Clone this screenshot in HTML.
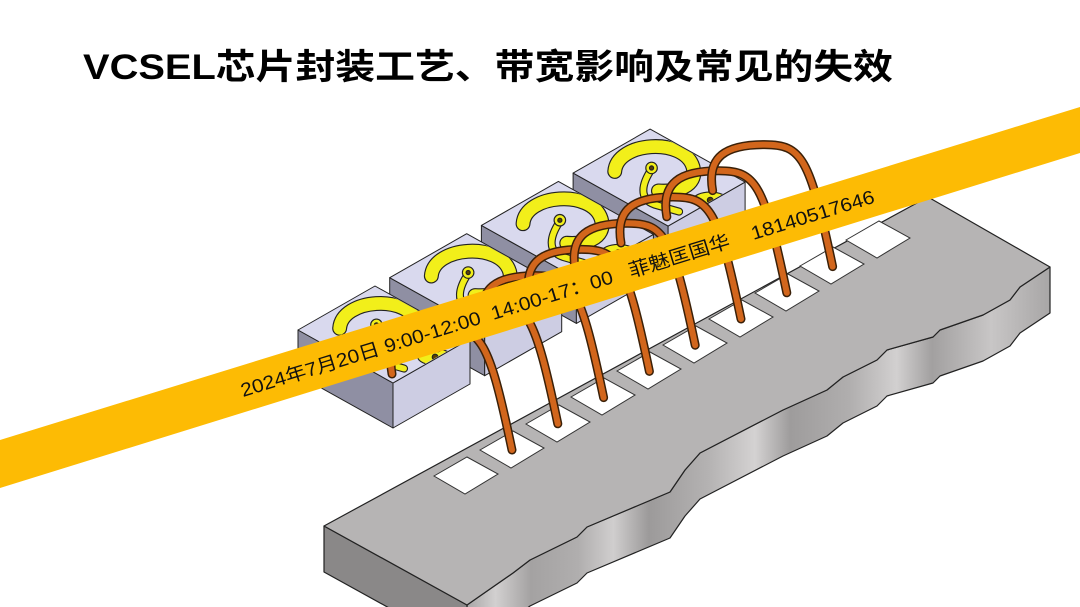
<!DOCTYPE html>
<html><head><meta charset="utf-8"><style>
html,body{margin:0;padding:0;background:#fff;width:1080px;height:607px;overflow:hidden;}
svg{display:block;}
</style></head><body>
<svg width="1080" height="607" viewBox="0 0 1080 607" xmlns="http://www.w3.org/2000/svg">
<defs>
<linearGradient id="cutg" gradientUnits="userSpaceOnUse" x1="460" y1="0" x2="1050" y2="0">
<stop offset="0" stop-color="#9e9c9c"/><stop offset="0.06" stop-color="#d2d0d0"/><stop offset="0.12" stop-color="#a4a2a2"/>
<stop offset="0.2" stop-color="#b0aeae"/><stop offset="0.26" stop-color="#d0cece"/><stop offset="0.32" stop-color="#9c9a9a"/>
<stop offset="0.42" stop-color="#b4b2b2"/><stop offset="0.5" stop-color="#d4d2d2"/><stop offset="0.56" stop-color="#9e9c9c"/>
<stop offset="0.66" stop-color="#b0aeae"/><stop offset="0.74" stop-color="#d2d0d0"/><stop offset="0.8" stop-color="#a2a0a0"/>
<stop offset="0.9" stop-color="#c8c6c6"/><stop offset="1" stop-color="#a8a6a6"/>
</linearGradient>
<clipPath id="topc"><polygon points="574,173 650,130 744,182 668,225"/></clipPath>
<g id="pat0">
  <path d="M620,166 C622,140 680,136 688,162 C693,180 672,184 658,183" fill="none" stroke="#222" stroke-width="13" stroke-linecap="round"/>
  <path d="M652,164 C644,176 640,190 655,195 L676,201" fill="none" stroke="#222" stroke-width="7" stroke-linecap="round"/>
  <ellipse cx="703" cy="191" rx="15" ry="7" fill="#f2ef1a" stroke="#222" stroke-width="1"/>
  <path d="M620,166 C622,140 680,136 688,162 C693,180 672,184 658,183" fill="none" stroke="#f2ef1a" stroke-width="11" stroke-linecap="round"/>
  <path d="M652,164 C644,176 640,190 655,195 L676,201" fill="none" stroke="#f2ef1a" stroke-width="5" stroke-linecap="round"/>
  <circle cx="652" cy="163" r="5" fill="#f2ef1a" stroke="#222" stroke-width="1"/>
  <circle cx="652" cy="163" r="1.8" fill="#5a4000"/>
  <circle cx="703" cy="191" r="2.5" fill="#5a4000"/>
</g>
<g id="pat"><g clip-path="url(#topc)"><use href="#pat0" transform="translate(655,176) scale(1.15) translate(-655,-170)"/></g></g>
</defs>

<text x="83" y="79" font-family="Liberation Sans, Noto Sans CJK SC, sans-serif" font-weight="bold" font-size="35" fill="#000" textLength="810" lengthAdjust="spacingAndGlyphs">VCSEL芯片封装工艺、带宽影响及常见的失效</text>

<g stroke="#222" stroke-width="1" stroke-linejoin="round">
  <g transform="translate(275.1,-156.9)">
    <polygon points="298,330 393,383 393,428 298,375" fill="#8f8fa3"/>
    <polygon points="393,383 470,339 470,384 393,428" fill="#cdcde3"/>
    <polygon points="298,330 375,286 470,339 393,383" fill="#d9d9ee"/>
  </g>
  <g><use href="#pat"/></g>
  <g transform="translate(183.4,-104.6)">
    <polygon points="298,330 393,383 393,428 298,375" fill="#8f8fa3"/>
    <polygon points="393,383 470,339 470,384 393,428" fill="#cdcde3"/>
    <polygon points="298,330 375,286 470,339 393,383" fill="#d9d9ee"/>
  </g>
  <g transform="translate(-91.7,52.3)"><use href="#pat"/></g>
  <g transform="translate(91.7,-52.3)">
    <polygon points="298,330 393,383 393,428 298,375" fill="#8f8fa3"/>
    <polygon points="393,383 470,339 470,384 393,428" fill="#cdcde3"/>
    <polygon points="298,330 375,286 470,339 393,383" fill="#d9d9ee"/>
  </g>
  <g transform="translate(-183.4,104.6)"><use href="#pat"/></g>
  <g>
    <polygon points="298,330 393,383 393,428 298,375" fill="#8f8fa3"/>
    <polygon points="393,383 470,339 470,384 393,428" fill="#cdcde3"/>
    <polygon points="298,330 375,286 470,339 393,383" fill="#d9d9ee"/>
  </g>
  <g transform="translate(-275.1,156.9)"><use href="#pat"/></g>
</g>

<g stroke="#222" stroke-width="1.2" stroke-linejoin="round">
  <polygon fill="url(#cutg)" points="1050,267 1020,287 1010,300 983,315 940,330 933,337 887,350 877,360 843,377 827,390 783,410 700,453 685,470 670,492 587,527 577,537 530,560 513,573 467,605 467,651 513,619 530,606 577,583 587,573 670,538 685,516 700,499 783,456 827,436 843,423 877,406 887,396 933,383 940,376 983,361 1010,346 1020,333 1050,313"/>
  <polygon fill="#8a8888" points="324,526 467,605 467,651 324,572"/>
  <polygon fill="#b6b4b4" points="324,526 928,197 1050,267 1020,287 1010,300 983,315 940,330 933,337 887,350 877,360 843,377 827,390 783,410 700,453 685,470 670,492 587,527 577,537 530,560 513,573 467,605"/>
</g>
<g fill="#fff" stroke="#333" stroke-width="1">
<polygon points="434,476 467,457 498,474 465,494"/>
<polygon points="480,450 513,431 544,448 511,468"/>
<polygon points="526,424 559,405 590,422 557,442"/>
<polygon points="571,397 604,378 635,395 602,415"/>
<polygon points="617,371 650,352 681,369 648,389"/>
<polygon points="663,345 696,326 727,343 694,363"/>
<polygon points="709,319 742,300 773,317 740,337"/>
<polygon points="755,293 788,274 819,291 786,311"/>
<polygon points="800,266 833,247 864,264 831,284"/>
<polygon points="846,240 879,221 910,238 877,258"/>
</g>

<g fill="none" stroke-linecap="round">
<g id="w0">
  <path d="M392,374 C386,340 405,328 444,328 C481,328 489,340 512,450" stroke="#3a2008" stroke-width="9"/>
  <path d="M392,374 C386,340 405,328 444,328 C481,328 489,340 512,450" stroke="#d2661c" stroke-width="6"/>
</g>
<use href="#w0" transform="translate(45.8,-26.2)"/>
<use href="#w0" transform="translate(91.6,-52.4)"/>
<use href="#w0" transform="translate(137.4,-78.6)"/>
<use href="#w0" transform="translate(183.2,-104.8)"/>
<use href="#w0" transform="translate(229,-131)"/>
<use href="#w0" transform="translate(274.8,-157.2)"/>
<use href="#w0" transform="translate(320.6,-183.4)"/>
</g>

<polygon points="0,440 1080,107 1080,153 0,488" fill="#fdbb04"/>
<text x="243" y="397" transform="rotate(-17.1 243 397)" font-family="Liberation Sans, Noto Sans CJK SC, sans-serif" font-size="19" fill="#111" style="white-space:pre" xml:space="preserve" textLength="662" lengthAdjust="spacingAndGlyphs">2024年7月20日 9:00-12:00  14:00-17：00   菲魅匡国华    18140517646</text>
</svg>
</body></html>
